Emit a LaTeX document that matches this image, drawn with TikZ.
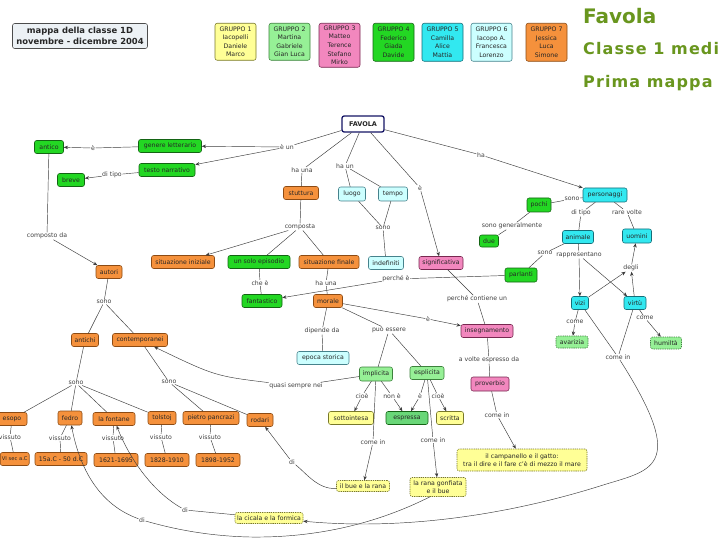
\documentclass[tikz,border=0pt]{standalone}
\usepackage{fontspec}
\setmainfont{DejaVu Sans}
\newfontfamily\titlefont[LetterSpace=7]{DejaVu Sans}
\usetikzlibrary{arrows.meta}
\definecolor{cOr}{RGB}{245,145,60}
\definecolor{cOrD}{RGB}{140,75,20}
\definecolor{cGr}{RGB}{35,215,35}
\definecolor{cGrD}{RGB}{20,100,20}
\definecolor{cCy}{RGB}{50,232,240}
\definecolor{cCyD}{RGB}{20,110,120}
\definecolor{cLc}{RGB}{204,255,255}
\definecolor{cLcD}{RGB}{70,130,140}
\definecolor{cPk}{RGB}{242,135,190}
\definecolor{cPkD}{RGB}{120,40,80}
\definecolor{cLg}{RGB}{150,240,150}
\definecolor{cLgD}{RGB}{60,130,60}
\definecolor{cYe}{RGB}{255,255,150}
\definecolor{cYeD}{RGB}{120,120,40}
\definecolor{cMg}{RGB}{105,215,120}
\definecolor{cTitle}{RGB}{105,150,30}
\definecolor{cLine}{RGB}{60,60,60}
\definecolor{cTb}{RGB}{236,241,245}
\definecolor{cNavy}{RGB}{20,20,100}
\begin{document}
\begin{tikzpicture}[x=1pt,y=-1pt,
 every node/.style={font=\fontsize{6.2}{7.5}\selectfont},
 cbox/.style={draw, rounded corners=2.2pt, inner sep=1.2pt, minimum height=13pt, line width=0.55pt, text=black!85, align=center},
 nOr/.style={cbox, fill=cOr, draw=cOrD},
 nGr/.style={cbox, fill=cGr, draw=cGrD},
 nCy/.style={cbox, fill=cCy, draw=cCyD},
 nLc/.style={cbox, fill=cLc, draw=cLcD},
 nPk/.style={cbox, fill=cPk, draw=cPkD},
 nLg/.style={cbox, fill=cLg, draw=cLgD},
 nLgD/.style={nLg, dash pattern=on 1.3pt off 0.9pt},
 nYe/.style={cbox, fill=cYe, draw=cYeD},
 nYeD/.style={nYe, dash pattern=on 1.3pt off 0.9pt},
 nMg/.style={cbox, fill=cMg, draw=cGrD},
 grp/.style={minimum width=41pt, font=\fontsize{6.2}{8.6}\selectfont, anchor=north, inner sep=1pt},
 lbl/.style={fill=white, inner sep=0.5pt, text=black!75},
 ln/.style={draw=cLine, line width=0.45pt},
 ar/.style={ln, -{Stealth[length=4.2pt,width=3.4pt]}}
]
\fill[white] (0,0) rectangle (720,540);
\useasboundingbox (0,0) rectangle (720,540);

% ---- header
\node[cbox, fill=cTb, draw=black!70, minimum width=135pt, minimum height=25pt,
      font=\fontsize{8.4}{11}\selectfont\bfseries] (title) at (80,36)
      {mappa della classe 1D\\novembre - dicembre 2004};
\node[nYe, grp, minimum height=37pt] (g1) at (235.5,23) {GRUPPO 1\\Iacopelli\\Daniele\\Marco};
\node[nLg, grp, minimum height=37pt] (g2) at (289.5,23) {GRUPPO 2\\Martina\\Gabriele\\Gian Luca};
\node[nPk, grp, minimum height=44pt] (g3) at (339.5,23) {GRUPPO 3\\Matteo\\Terence\\Stefano\\Mirko};
\node[nGr, grp, minimum height=38pt] (g4) at (393.5,23) {GRUPPO 4\\Federico\\Giada\\Davide};
\node[nCy, grp, minimum height=38pt] (g5) at (442.5,23) {GRUPPO 5\\Camilla\\Alice\\Mattia};
\node[nLc, grp, minimum height=38pt] (g6) at (491.5,23) {GRUPPO 6\\Iacopo A.\\Francesca\\Lorenzo};
\node[nOr, grp, minimum height=38pt] (g7) at (546.5,23) {GRUPPO 7\\Jessica\\Luca\\Simone};
\node[anchor=base west, inner sep=0, text=cTitle, font=\fontsize{20}{22}\selectfont\bfseries] (t1) at (583,24) {Favola};
\node[anchor=base west, inner sep=0, text=cTitle, font=\fontsize{16}{18}\selectfont\titlefont\bfseries] (t2) at (583,55) {Classe 1 medi};
\node[anchor=base west, inner sep=0, text=cTitle, font=\fontsize{16}{18}\selectfont\titlefont\bfseries] (t3) at (583,88) {Prima mappa};

% ---- concepts
\node[cbox, fill=white, draw=cNavy, line width=1.3pt, minimum width=42pt, minimum height=16pt, font=\fontsize{6.5}{7.5}\selectfont\bfseries] (favola) at (363,124) {FAVOLA};
\node[nGr, minimum width=29pt] (antico) at (49,147) {antico};
\node[nGr, minimum width=63pt] (genlet) at (170,146) {genere letterario};
\node[nGr, minimum width=56pt] (testo) at (167,170) {testo narrativo};
\node[nGr, minimum width=27pt] (breve) at (71,180) {breve};
\node[nOr, minimum width=26pt] (autori) at (109,272) {autori};
\node[nOr, minimum width=63pt] (sitini) at (183,262) {situazione iniziale};
\node[nOr, minimum width=35pt] (stutt) at (301,193) {stuttura};
\node[nLc, minimum width=27pt, minimum height=14pt] (luogo) at (352,194) {luogo};
\node[nLc, minimum width=29pt, minimum height=14pt] (tempo) at (393,194) {tempo};
\node[nGr, minimum width=62pt] (unsolo) at (259,262) {un solo episodio};
\node[nOr, minimum width=60pt] (sitfin) at (329,262) {situazione finale};
\node[nLc, minimum width=35pt] (indef) at (386,263) {indefiniti};
\node[nPk, minimum width=44pt] (signif) at (441,263) {significativa};
\node[nCy, minimum width=44pt, minimum height=14pt] (pers) at (605,195) {personaggi};
\node[nGr, minimum width=24pt, minimum height=14pt] (pochi) at (539,205) {pochi};
\node[nGr, minimum width=19pt, minimum height=12pt] (due) at (489,241) {due};
\node[nCy, minimum width=31pt] (animale) at (578,237) {animale};
\node[nCy, minimum width=29pt, minimum height=14pt] (uomini) at (637,236) {uomini};
\node[nGr, minimum width=32pt, minimum height=14pt] (parlanti) at (521,275) {parlanti};
\node[nCy, minimum width=17pt] (vizi) at (580,303) {vizi};
\node[nCy, minimum width=22pt] (virtu) at (635,303) {virtù};
\node[nLgD, minimum width=32pt, minimum height=12pt] (avarizia) at (572,342) {avarizia};
\node[nLgD, minimum width=31pt, minimum height=12pt] (umilta) at (666,343) {humiltà};
\node[nGr, minimum width=40pt] (fant) at (262,301) {fantastico};
\node[nOr, minimum width=29pt] (morale) at (328,301) {morale};
\node[nLc, minimum width=52pt] (epoca) at (323,358) {epoca storica};
\node[nLg, minimum width=33pt, minimum height=14pt] (impl) at (376,374) {implicita};
\node[nLg, minimum width=34pt] (espl) at (427,373) {esplicita};
\node[nPk, minimum width=52pt] (insegn) at (487,331) {insegnamento};
\node[nPk, minimum width=38pt, minimum height=14pt] (prov) at (490,384) {proverbio};
\node[nYe, minimum width=45pt] (sott) at (351,418) {sottointesa};
\node[nMg, minimum width=42pt] (espr) at (407,418) {espressa};
\node[nYe, minimum width=27pt] (scritta) at (450,418) {scritta};
\node[nYeD, minimum width=130pt, minimum height=22pt] (campan) at (522,460) {il campanello e il gatto:\\tra il dire e il fare c'è di mezzo il mare};
\node[nYeD, minimum width=53pt, minimum height=11pt] (bue) at (363,486) {il bue e la rana};
\node[nYeD, minimum width=56pt, minimum height=19pt] (rana) at (438,487) {la rana gonfiata\\e il bue};
\node[nYeD, minimum width=68pt, minimum height=11pt] (cicala) at (269,518) {la cicala e la formica};
\node[nOr, minimum width=27pt] (antichi) at (85,340) {antichi};
\node[nOr, minimum width=55pt] (contemp) at (140,340) {contemporanei};
\node[nOr, minimum width=30pt] (esopo) at (12,419) {esopo};
\node[nOr, minimum width=24pt, minimum height=14pt] (fedro) at (70,418) {fedro};
\node[nOr, minimum width=42pt] (lafont) at (114,419) {la fontane};
\node[nOr, minimum width=28pt] (tolstoj) at (162,418) {tolstoj};
\node[nOr, minimum width=56pt] (pietro) at (211,418) {pietro pancrazi};
\node[nOr, minimum width=26pt] (rodari) at (260,420) {rodari};
\node[nOr, minimum width=29pt, inner sep=0.8pt, anchor=east, font=\fontsize{5.2}{6}\selectfont] (d1) at (29.5,459) {VI sec a.C};
\node[nOr, minimum width=52pt] (d2) at (61,459) {15a.C - 50 d.C};
\node[nOr, minimum width=44pt] (d3) at (116,460) {1621-1695};
\node[nOr, minimum width=44pt] (d4) at (167,460) {1828-1910};
\node[nOr, minimum width=44pt] (d5) at (218,460) {1898-1952};

% ---- linking phrases
\node[lbl] (eun) at (287,147) {è un};
\node[lbl] (e1) at (93,148) {è};
\node[lbl] (dt1) at (112,175) {di tipo};
\node[lbl] (compda) at (47,236) {composto da};
\node[lbl] (haua) at (302,170) {ha una};
\node[lbl] (haun) at (345,166) {ha un};
\node[lbl] (e2) at (420,188) {è};
\node[lbl] (ha) at (481,155) {ha};
\node[lbl] (composta) at (300,227) {composta};
\node[lbl] (sono1) at (383,228) {sono};
\node[lbl] (chee) at (260,283) {che è};
\node[lbl] (haua2) at (326,283) {ha una};
\node[lbl] (perche) at (396,279) {perché è};
\node[lbl] (perchec) at (477,299) {perché contiene un};
\node[lbl] (dipende) at (322,331) {dipende da};
\node[lbl] (puo) at (389,330) {può essere};
\node[lbl] (e3) at (428,319) {è};
\node[lbl] (avolte) at (489,360) {a volte espresso da};
\node[lbl] (ci1) at (497,415) {come in};
\node[lbl] (quasi) at (296,386) {quasi sempre nei};
\node[lbl] (cioe1) at (362,396) {cioè};
\node[lbl] (none) at (392,396) {non è};
\node[lbl] (e4) at (420,396) {è};
\node[lbl] (cioe2) at (438,396) {cioè};
\node[lbl] (ci2) at (373,442) {come in};
\node[lbl] (ci3) at (433,440) {come in};
\node[lbl] (di1) at (292,462) {di};
\node[lbl] (di2) at (185,510) {di};
\node[lbl] (di3) at (142,520) {di};
\node[lbl] (sono2) at (104,302) {sono};
\node[lbl] (sono3) at (76,383) {sono};
\node[lbl] (sono4) at (169,382) {sono};
\node[lbl] (v1) at (10,437) {vissuto};
\node[lbl] (v2) at (60,438) {vissuto};
\node[lbl] (v3) at (113,438) {vissuto};
\node[lbl] (v4) at (161,437) {vissuto};
\node[lbl] (v5) at (210,437) {vissuto};
\node[lbl] (sono5) at (572,199) {sono};
\node[lbl] (sonog) at (512,226) {sono generalmente};
\node[lbl] (dt2) at (581,213) {di tipo};
\node[lbl] (rare) at (627,212) {rare volte};
\node[lbl] (sono6) at (545,253) {sono};
\node[lbl] (rappr) at (579,255) {rappresentano};
\node[lbl] (degli) at (631,268) {degli};
\node[lbl] (come1) at (575,322) {come};
\node[lbl] (come2) at (645,318) {come};
\node[lbl] (ci4) at (618,357) {come in};

% ---- connectors
\draw[ln] (favola) -- (eun);
\draw[ar] (eun) -- (genlet);
\draw[ar] (eun) -- (testo);
\draw[ln] (genlet) -- (e1);
\draw[ar] (e1) -- (antico);
\draw[ln] (testo) -- (dt1);
\draw[ar] (dt1) -- (breve);
\draw[ln] (antico) -- (compda);
\draw[ar] (compda) -- (autori);
\draw[ln] (favola) -- (haua);
\draw[ln] (haua) -- (stutt);
\draw[ln] (favola) -- (haun);
\draw[ln] (haun) -- (luogo);
\draw[ln] (haun) -- (tempo);
\draw[ln] (favola) -- (e2);
\draw[ar] (e2) -- (signif);
\draw[ln] (favola) -- (ha);
\draw[ar] (ha) -- (pers);
\draw[ln] (stutt) -- (composta);
\draw[ar] (composta) -- (sitini);
\draw[ln] (composta) -- (unsolo);
\draw[ln] (composta) -- (sitfin);
\draw[ln] (luogo) -- (sono1);
\draw[ln] (tempo) -- (sono1);
\draw[ln] (sono1) -- (indef);
\draw[ln] (unsolo) -- (chee);
\draw[ln] (chee) -- (fant);
\draw[ln] (sitfin) -- (haua2);
\draw[ln] (haua2) -- (morale);
\draw[ln] (parlanti) -- (perche);
\draw[ar] (perche) -- (fant);
\draw[ln] (signif) -- (perchec);
\draw[ln] (perchec) -- (insegn);
\draw[ln] (morale) -- (dipende);
\draw[ln] (dipende) -- (epoca);
\draw[ln] (morale) -- (puo);
\draw[ln] (puo) -- (impl);
\draw[ln] (puo) -- (espl);
\draw[ln] (morale) -- (e3);
\draw[ar] (e3) -- (insegn);
\draw[ln] (insegn) -- (avolte);
\draw[ln] (avolte) -- (prov);
\draw[ln] (prov) -- (ci1);
\draw[ar] (ci1) -- (campan);
\draw[ln] (impl) -- (cioe1);
\draw[ar] (cioe1) -- (sott);
\draw[ln] (impl) -- (none);
\draw[ar] (none) -- (espr);
\draw[ln] (espl) -- (e4);
\draw[ar] (e4) -- (espr);
\draw[ln] (espl) -- (cioe2);
\draw[ar] (cioe2) -- (scritta);
\draw[ln] (impl) -- (ci2);
\draw[ar] (ci2) -- (bue);
\draw[ln] (espl) -- (ci3);
\draw[ar] (ci3) -- (rana);
\draw[ln] (impl) -- (quasi);
\draw[ar] (quasi) .. controls (215,376) .. (contemp);
\draw[ln] (bue) .. controls (318,490) and (305,472) .. (di1);
\draw[ar] (di1) -- (rodari);
\draw[ln] (cicala) -- (di2);
\draw[ar] (di2) .. controls (150,490) and (128,455) .. (lafont);
\draw[ln] ([xshift=-8pt]rana.south) .. controls (380,522) and (320,538) .. (250,537) .. controls (205,536) and (170,528) .. (di3);
\draw[ar] (di3) .. controls (100,505) and (80,470) .. (fedro);
\draw[ln] (vizi) -- (ci4);
\draw[ln] (virtu) -- (ci4);
\draw[ar] (ci4) .. controls (690,470) and (650,470) .. (600,486) .. controls (530,508) and (420,532) .. (cicala);
\draw[ln] (autori) -- (sono2);
\draw[ln] (sono2) -- (antichi);
\draw[ln] (sono2) -- (contemp);
\draw[ln] (antichi) -- (sono3);
\draw[ln] (sono3) -- (esopo);
\draw[ln] (sono3) -- (fedro);
\draw[ln] (sono3) -- (lafont);
\draw[ln] (sono3) -- (tolstoj);
\draw[ln] (contemp) -- (sono4);
\draw[ln] (sono4) -- (pietro);
\draw[ln] (sono4) -- (rodari);
\draw[ln] (esopo) -- (v1);
\draw[ln] (v1) -- (d1);
\draw[ln] (fedro) -- (v2);
\draw[ln] (v2) -- (d2);
\draw[ln] (lafont) -- (v3);
\draw[ln] (v3) -- (d3);
\draw[ln] (tolstoj) -- (v4);
\draw[ln] (v4) -- (d4);
\draw[ln] (pietro) -- (v5);
\draw[ln] (v5) -- (d5);
\draw[ln] (pers) -- (sono5);
\draw[ln] (sono5) -- (pochi);
\draw[ln] (pochi) -- (sonog);
\draw[ln] (sonog) -- (due);
\draw[ln] (pers) -- (dt2);
\draw[ln] (dt2) -- (animale);
\draw[ln] (pers) -- (rare);
\draw[ln] (rare) -- (uomini);
\draw[ln] (animale) -- (sono6);
\draw[ln] (sono6) -- (parlanti);
\draw[ln] (animale) -- (rappr);
\draw[ar] (rappr) -- (vizi);
\draw[ar] (rappr) -- (virtu);
\draw[ar] (vizi) -- (degli);
\draw[ar] (virtu) -- (degli);
\draw[ar] (degli) -- (uomini);
\draw[ln] (vizi) -- (come1);
\draw[ar] (come1) -- (avarizia);
\draw[ln] (virtu) -- (come2);
\draw[ar] (come2) -- (umilta);
\end{tikzpicture}
\end{document}
